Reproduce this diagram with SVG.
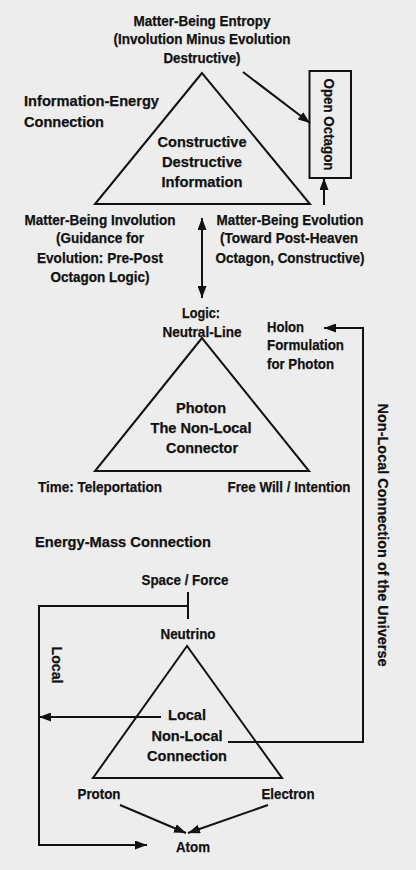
<svg xmlns="http://www.w3.org/2000/svg" width="416" height="870" viewBox="0 0 416 870">
<style>
text{font-family:"Liberation Sans",Arial,sans-serif;font-weight:bold;font-size:15px;fill:#111;stroke:#111;stroke-width:0.25}
.m{text-anchor:middle}
.ln{fill:none;stroke:#111;stroke-width:2}
</style>
<defs>
<marker id="ah" viewBox="0 0 12 9" refX="12" refY="4.5" markerWidth="12" markerHeight="9" markerUnits="userSpaceOnUse" orient="auto-start-reverse">
<path d="M0,0 L12,4.5 L0,9 z" fill="#111"/>
</marker>
</defs>
<rect width="416" height="870" fill="#ededed"/>

<g id="entropy-label">
<text class="m" x="202" y="26" textLength="137" lengthAdjust="spacingAndGlyphs">Matter-Being Entropy</text>
<text class="m" x="202" y="44" textLength="177" lengthAdjust="spacingAndGlyphs">(Involution Minus Evolution</text>
<text class="m" x="202" y="63" textLength="77" lengthAdjust="spacingAndGlyphs">Destructive)</text>
</g>
<g id="info-energy-label">
<text x="24" y="106" textLength="135" lengthAdjust="spacingAndGlyphs">Information-Energy</text>
<text x="24" y="127" textLength="80" lengthAdjust="spacingAndGlyphs">Connection</text>
</g>
<g id="triangle-information">
<polygon class="ln" points="202,73 95,204 310,204"/>
<text class="m" x="202" y="147" textLength="89" lengthAdjust="spacingAndGlyphs">Constructive</text>
<text class="m" x="202" y="167" textLength="80" lengthAdjust="spacingAndGlyphs">Destructive</text>
<text class="m" x="202" y="187" textLength="81" lengthAdjust="spacingAndGlyphs">Information</text>
</g>
<g id="open-octagon">
<rect class="ln" x="309.5" y="71" width="41.5" height="107"/>
<text class="m" transform="translate(324,124.5) rotate(90)" textLength="92" lengthAdjust="spacingAndGlyphs">Open Octagon</text>
</g>
<g id="involution-label">
<text class="m" x="100" y="225" textLength="151" lengthAdjust="spacingAndGlyphs">Matter-Being Involution</text>
<text class="m" x="100" y="243" textLength="88" lengthAdjust="spacingAndGlyphs">(Guidance for</text>
<text class="m" x="100" y="263" textLength="126" lengthAdjust="spacingAndGlyphs">Evolution: Pre-Post</text>
<text class="m" x="100" y="282" textLength="99" lengthAdjust="spacingAndGlyphs">Octagon Logic)</text>
</g>
<g id="evolution-label">
<text class="m" x="290" y="225" textLength="147" lengthAdjust="spacingAndGlyphs">Matter-Being Evolution</text>
<text class="m" x="289" y="243" textLength="138" lengthAdjust="spacingAndGlyphs">(Toward Post-Heaven</text>
<text class="m" x="290" y="263" textLength="149" lengthAdjust="spacingAndGlyphs">Octagon, Constructive)</text>
</g>
<g id="triangle-photon">
<text class="m" x="201" y="318" textLength="38" lengthAdjust="spacingAndGlyphs">Logic:</text>
<text class="m" x="202" y="337" textLength="79" lengthAdjust="spacingAndGlyphs">Neutral-Line</text>
<polygon class="ln" points="202,338 95,471 309,471"/>
<text class="m" x="201" y="413" textLength="50" lengthAdjust="spacingAndGlyphs">Photon</text>
<text class="m" x="201" y="433" textLength="101" lengthAdjust="spacingAndGlyphs">The Non-Local</text>
<text class="m" x="202" y="453" textLength="72" lengthAdjust="spacingAndGlyphs">Connector</text>
<text class="m" x="100" y="492" textLength="124" lengthAdjust="spacingAndGlyphs">Time: Teleportation</text>
<text class="m" x="289" y="492" textLength="123" lengthAdjust="spacingAndGlyphs">Free Will / Intention</text>
</g>
<g id="holon-label">
<text x="267" y="332" textLength="37" lengthAdjust="spacingAndGlyphs">Holon</text>
<text x="267" y="350" textLength="77" lengthAdjust="spacingAndGlyphs">Formulation</text>
<text x="267" y="369" textLength="67" lengthAdjust="spacingAndGlyphs">for Photon</text>
</g>
<g id="nonlocal-universe-label">
<text class="m" transform="translate(378,535) rotate(90)" textLength="263" lengthAdjust="spacingAndGlyphs">Non-Local Connection of the Universe</text>
</g>
<g id="energy-mass-label">
<text x="35" y="547" textLength="176" lengthAdjust="spacingAndGlyphs">Energy-Mass Connection</text>
</g>
<g id="local-label">
<text class="m" transform="translate(52,665) rotate(90)" textLength="37" lengthAdjust="spacingAndGlyphs">Local</text>
</g>
<g id="triangle-neutrino">
<text class="m" x="185" y="585" textLength="87" lengthAdjust="spacingAndGlyphs">Space / Force</text>
<text class="m" x="188" y="639" textLength="55" lengthAdjust="spacingAndGlyphs">Neutrino</text>
<polygon class="ln" points="187,646 93,778 282,778"/>
<text class="m" x="187" y="720" textLength="38" lengthAdjust="spacingAndGlyphs">Local</text>
<text class="m" x="187" y="741" textLength="71" lengthAdjust="spacingAndGlyphs">Non-Local</text>
<text class="m" x="187" y="761" textLength="80" lengthAdjust="spacingAndGlyphs">Connection</text>
<text class="m" x="99" y="799" textLength="43" lengthAdjust="spacingAndGlyphs">Proton</text>
<text class="m" x="288" y="799" textLength="53" lengthAdjust="spacingAndGlyphs">Electron</text>
</g>
<g id="atom">
<text class="m" x="193" y="852" textLength="34" lengthAdjust="spacingAndGlyphs">Atom</text>
</g>

<g id="connectors">
<line class="ln" x1="243" y1="72" x2="310" y2="123" marker-end="url(#ah)"/>
<line class="ln" x1="324" y1="205" x2="324" y2="178" marker-end="url(#ah)"/>
<line class="ln" x1="202" y1="218" x2="202" y2="298" marker-start="url(#ah)" marker-end="url(#ah)"/>
<polyline class="ln" points="228,742 363,742 363,328 324,328" marker-end="url(#ah)"/>
<line class="ln" x1="188" y1="592" x2="188" y2="619"/>
<polyline class="ln" points="188,606 39,606 39,845 147,845" marker-end="url(#ah)"/>
<line class="ln" x1="161" y1="717" x2="39" y2="717" marker-end="url(#ah)"/>
<line class="ln" x1="120" y1="805" x2="186" y2="833" marker-end="url(#ah)"/>
<line class="ln" x1="268" y1="805" x2="188" y2="833" marker-end="url(#ah)"/>
</g>
</svg>
